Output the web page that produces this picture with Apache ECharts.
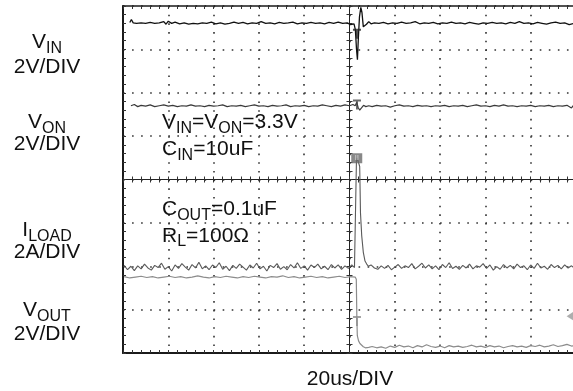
<!DOCTYPE html>
<html><head><meta charset="utf-8">
<script src="https://cdn.jsdelivr.net/npm/echarts@6/dist/echarts.min.js"></script>
<style>html,body{margin:0;padding:0;background:#fff}#c{width:573px;height:391px}</style>
</head><body><div id="c"></div>
<script>
// ---------- axis ranges (time in us, vertical in divisions from screen centre) ----------
const xMin = -100, xMax = 100, xStep = 20;
const yMin = -4, yMax = 4, yStep = 1;
const minorPerDiv = 5;

// ---------- text ----------
const channelNames = [['V','IN'], ['V','ON'], ['I','LOAD'], ['V','OUT']];
const channelScales = ['2V/DIV', '2V/DIV', '2A/DIV', '2V/DIV'];
const conditionLines = [
  [['V','m'],['IN','s'],['=V','m'],['ON','s'],['=3.3V','m']],
  [['C','m'],['IN','s'],['=10uF','m']],
  [['C','m'],['OUT','s'],['=0.1uF','m']],
  [['R','m'],['L','s'],['=100\u03a9','m']]
];
const timeScaleLabel = '20us/DIV';

// ---------- traces [time us, divisions] ----------
const vinTrace = [
[-97,3.62],[-96.3,3.69],[-95.5,3.61],[-94,3.60],[-92,3.61],[-90,3.60],[-88,3.62],[-86,3.60],[-84,3.61],[-82,3.64],[-81,3.58],[-80,3.65],[-78.5,3.60],[-77,3.63],[-75,3.59],[-73,3.61],[-71,3.58],[-69,3.60],[-67,3.59],[-65,3.61],[-63,3.60],[-61,3.63],[-59,3.59],[-57,3.61],[-55,3.58],[-53,3.60],[-51,3.63],[-49,3.60],[-47,3.62],[-45,3.59],[-43,3.61],[-41,3.60],[-39,3.64],[-37,3.60],[-35,3.61],[-33,3.59],[-31,3.62],[-29,3.60],[-27,3.61],[-25,3.63],[-23,3.59],[-21,3.61],[-19,3.60],[-17,3.62],[-15,3.60],[-13,3.61],[-11,3.59],[-9,3.62],[-7,3.60],[-5,3.63],[-3,3.60],[-1,3.61],[0.5,3.57],[2,3.59],
[2.6,3.45],[3.1,3.0],[3.5,2.76],[3.9,3.25],[4.4,3.75],[5.0,3.97],[5.5,3.85],[6.1,3.52],[6.8,3.48],[7.5,3.58],[8.5,3.64],[9.5,3.59],
[11,3.61],[13,3.60],[15,3.62],[17,3.59],[19,3.61],[21,3.60],[23,3.63],[25,3.60],[27,3.61],[29,3.64],[31,3.59],[33,3.61],[35,3.60],[37,3.62],[39,3.59],[41,3.61],[43,3.60],[45,3.63],[47,3.60],[49,3.61],[51,3.59],[53,3.62],[55,3.60],[57,3.58],[59,3.61],[61,3.60],[63,3.62],[65,3.60],[67,3.61],[69,3.59],[71,3.62],[73,3.60],[75,3.64],[77,3.60],[79,3.61],[81,3.59],[83,3.62],[85,3.60],[87,3.58],[89,3.61],[91,3.63],[93,3.60],[95,3.61],[97,3.57],[99,3.60],[100,3.61]
];
const vonTrace = [
[-96.5,1.70],[-95,1.73],[-93.5,1.68],[-92,1.71],[-90,1.69],[-88,1.72],[-86,1.68],[-84,1.70],[-82,1.72],[-80,1.69],[-78,1.71],[-76,1.68],[-74,1.70],[-72,1.69],[-70,1.72],[-68,1.69],[-66,1.70],[-64,1.68],[-62,1.71],[-60,1.69],[-58,1.70],[-56,1.72],[-54,1.68],[-52,1.70],[-50,1.69],[-48,1.71],[-46,1.68],[-44,1.70],[-42,1.72],[-40,1.69],[-38,1.70],[-36,1.68],[-34,1.71],[-32,1.69],[-30,1.70],[-28,1.72],[-26,1.68],[-24,1.70],[-22,1.69],[-20,1.71],[-18,1.68],[-16,1.70],[-14,1.69],[-12,1.72],[-10,1.70],[-8,1.68],[-6,1.71],[-4,1.69],[-2,1.72],[0,1.70],[1.5,1.73],[2.5,1.70],
[3.2,1.78],[3.8,1.66],[4.5,1.60],[5.3,1.65],[6.2,1.71],[7.2,1.68],
[8.5,1.70],[10,1.68],[12,1.71],[14,1.69],[16,1.70],[18,1.67],[20,1.70],[22,1.72],[24,1.69],[26,1.70],[28,1.68],[30,1.71],[32,1.69],[34,1.70],[36,1.68],[38,1.70],[40,1.69],[42,1.71],[44,1.68],[46,1.70],[48,1.69],[50,1.71],[52,1.68],[54,1.70],[56,1.72],[58,1.69],[60,1.70],[62,1.68],[64,1.71],[66,1.69],[68,1.72],[70,1.69],[72,1.70],[74,1.68],[76,1.70],[78,1.69],[80,1.71],[82,1.68],[84,1.70],[86,1.69],[88,1.71],[90,1.68],[92,1.70],[94,1.69],[96,1.71],[98,1.65],[99,1.72],[100,1.69]
];
const iloadTrace = [
[-99.5,-1.98],[-98,-2.08],[-96.5,-2.00],[-95,-2.10],[-93.5,-1.99],[-92,-2.06],[-90.5,-1.95],[-89,-2.04],[-87.5,-2.09],[-86,-1.98],[-84.5,-2.03],[-83,-1.93],[-81.5,-2.07],[-80,-2.01],[-78.5,-2.11],[-77,-1.97],[-75.5,-2.05],[-74,-1.94],[-72.5,-2.02],[-71,-2.09],[-69.5,-1.96],[-68,-2.04],[-66.5,-1.91],[-65,-2.06],[-63.5,-1.99],[-62,-2.08],[-60.5,-1.97],[-59,-2.03],[-57.5,-1.92],[-56,-2.07],[-54.5,-2.00],[-53,-2.10],[-51.5,-1.98],[-50,-2.05],[-48.5,-1.95],[-47,-2.02],[-45.5,-2.09],[-44,-1.97],[-42.5,-2.04],[-41,-1.93],[-39.5,-2.06],[-38,-2.00],[-36.5,-2.11],[-35,-1.98],[-33.5,-2.03],[-32,-1.94],[-30.5,-2.07],[-29,-2.01],[-27.5,-2.08],[-26,-1.96],[-24.5,-2.04],[-23,-1.92],[-21.5,-2.05],[-20,-1.99],[-18.5,-2.09],[-17,-1.97],[-15.5,-2.03],[-14,-1.95],[-12.5,-2.06],[-11,-2.00],[-9.5,-2.08],[-8,-1.96],[-6.5,-2.04],[-5,-1.97],[-3.5,-2.07],[-2,-1.99],[-0.5,-2.05],[1,-1.97],[2.2,-2.03],
[2.9,-2.02],[3.05,0.40],[3.4,0.50],[4.0,0.52],[4.5,0.30],[4.7,-0.30],[4.85,-0.77],[5.4,-1.30],[6.1,-1.68],[6.85,-1.88],[7.6,-1.95],[8.3,-2.00],
[9.5,-1.97],[11,-2.04],[12.5,-2.07],[14,-1.99],[15.5,-2.05],[17,-1.98],[18.5,-2.08],[20,-2.02],[21.5,-1.96],[23,-2.05],[24.5,-1.99],[26,-2.03],[27.5,-1.94],[29,-2.06],[30.5,-2.00],[32,-1.93],[33.5,-2.04],[35,-1.97],[36.5,-2.06],[38,-1.99],[39.5,-2.08],[41,-1.96],[42.5,-2.03],[44,-1.92],[45.5,-2.05],[47,-2.00],[48.5,-2.07],[50,-1.98],[51.5,-2.04],[53,-1.95],[54.5,-2.06],[56,-1.99],[57.5,-2.02],[59,-1.94],[60.5,-2.05],[62,-1.97],[63.5,-2.09],[65,-2.01],[66.5,-2.07],[68,-1.96],[69.5,-2.04],[71,-1.98],[72.5,-2.06],[74,-1.95],[75.5,-2.03],[77,-1.99],[78.5,-2.08],[80,-1.97],[81.5,-2.05],[83,-1.93],[84.5,-2.04],[86,-2.00],[87.5,-2.07],[89,-1.96],[90.5,-2.03],[92,-1.98],[93.5,-2.06],[95,-1.97],[96.5,-2.04],[98,-1.99],[99.5,-2.05]
];
const voutTrace = [
[-99.5,-2.24],[-97,-2.27],[-94.5,-2.25],[-92,-2.23],[-89.5,-2.26],[-87,-2.24],[-84.5,-2.27],[-82,-2.25],[-79.5,-2.23],[-77,-2.26],[-74.5,-2.24],[-72,-2.27],[-69.5,-2.25],[-67,-2.22],[-64.5,-2.25],[-62,-2.27],[-59.5,-2.24],[-57,-2.26],[-54.5,-2.23],[-52,-2.25],[-49.5,-2.27],[-47,-2.24],[-44.5,-2.26],[-42,-2.23],[-39.5,-2.25],[-37,-2.27],[-34.5,-2.24],[-32,-2.25],[-29.5,-2.22],[-27,-2.26],[-24.5,-2.24],[-22,-2.27],[-19.5,-2.25],[-17,-2.23],[-14.5,-2.26],[-12,-2.24],[-9.5,-2.27],[-7,-2.25],[-4.5,-2.23],[-2,-2.26],[0.5,-2.24],[2.5,-2.25],
[3.0,-2.30],[3.25,-3.20],[3.45,-3.60],[4.0,-3.72],[4.6,-3.78],[5.3,-3.82],[6.1,-3.855],[7.0,-3.88],
[8.5,-3.87],[10,-3.85],[12,-3.88],[14,-3.86],[16,-3.89],[18,-3.84],[20,-3.87],[22,-3.82],[24,-3.86],[26,-3.84],[28,-3.88],[30,-3.83],[32,-3.86],[34,-3.81],[36,-3.85],[38,-3.87],[40,-3.84],[42,-3.88],[44,-3.83],[46,-3.86],[48,-3.84],[50,-3.87],[52,-3.85],[54,-3.82],[56,-3.86],[58,-3.84],[60,-3.87],[62,-3.83],[64,-3.86],[66,-3.84],[68,-3.88],[70,-3.85],[72,-3.83],[74,-3.86],[76,-3.84],[78,-3.87],[80,-3.83],[82,-3.85],[84,-3.82],[86,-3.86],[88,-3.84],[90,-3.81],[92,-3.85],[94,-3.83],[96,-3.80],[98,-3.84],[100,-3.82]
];

// ---------- scope markers [time us, divisions] ----------
const vinMarker = [3.3, 3.36];
const vonMarker = [3.3, 1.73];
const iloadMarker = [3.2, 0.49];
const voutMarker = [3.3, -3.26];
const triggerLevel = [97.4, -3.15];

// ---------- rendering ----------
const FONT = '"Liberation Sans", Arial, Helvetica, sans-serif';
const INK = '#111';
const rich = {
  m: { fontSize: 21, fontFamily: FONT, lineHeight: 24, verticalAlign: 'top', fill: INK },
  s: { fontSize: 16, fontFamily: FONT, verticalAlign: 'top', padding: [8, 0, 0, 0], fill: INK }
};
function richText(parts) { return parts.map(p => '{' + p[1] + '|' + p[0] + '}').join(''); }
function textEl(parts, x, baseline, align) {
  return { type: 'text', x: x, y: baseline - 17.8, z: 100, silent: true,
    style: { text: richText(parts), rich: rich, align: align, verticalAlign: 'top', fill: INK, fontFamily: FONT } };
}
const graphics = [];
const leftX = 47;
const nameBase = [50, 130, 238, 318];
const scaleBase = [75, 152, 260, 342];
channelNames.forEach((n, i) => {
  graphics.push(textEl([[n[0], 'm'], [n[1], 's']], leftX, nameBase[i], 'center'));
  graphics.push(textEl([[channelScales[i], 'm']], leftX, scaleBase[i], 'center'));
});
const condX = 162, condBase = [130, 157, 217, 243.5];
conditionLines.forEach((parts, i) => graphics.push(textEl(parts, condX, condBase[i], 'left')));
graphics.push(textEl([[timeScaleLabel, 'm']], 350, 387, 'center'));

const tickStyle = { color: '#333', width: 1 };
function axis(extra) {
  return Object.assign({ type: 'value', axisLabel: { show: false }, splitLine: { show: false },
    minorTick: { show: true, splitNumber: minorPerDiv, length: 3, lineStyle: tickStyle } }, extra);
}
const xRange = { min: xMin, max: xMax, interval: xStep };
const yRange = { min: yMin, max: yMax, interval: yStep };
const xAxes = [
  axis(Object.assign({ position: 'bottom',
    axisLine: { show: true, onZero: false, lineStyle: { color: '#1a1a1a', width: 2 } },
    axisTick: { show: true, inside: true, length: 3, lineStyle: tickStyle },
    splitLine: { show: true, lineStyle: { color: '#333', width: 1.6, type: [1.6, 7.08] } } }, xRange)),
  axis(Object.assign({ position: 'top',
    axisLine: { show: true, onZero: false, lineStyle: { color: '#1a1a1a', width: 1.5 } },
    axisTick: { show: true, inside: true, length: 3, lineStyle: tickStyle } }, xRange)),
  axis(Object.assign({ position: 'bottom',
    axisLine: { show: true, onZero: true, onZeroAxisIndex: 0, lineStyle: { color: '#222', width: 1 } },
    axisTick: { show: true, inside: true, length: 3, lineStyle: tickStyle } }, xRange)),
  axis(Object.assign({ position: 'bottom',
    axisLine: { show: true, onZero: true, onZeroAxisIndex: 0, lineStyle: { color: '#222', width: 1 } },
    axisTick: { show: true, inside: false, length: 3, lineStyle: tickStyle } }, xRange))
];
const yAxes = [
  axis(Object.assign({ position: 'left',
    axisLine: { show: true, onZero: false, lineStyle: { color: '#1a1a1a', width: 2 } },
    axisTick: { show: true, inside: true, length: 3, lineStyle: tickStyle },
    splitLine: { show: true, lineStyle: { color: '#333', width: 1.6, type: [1.6, 7.46] } } }, yRange)),
  axis(Object.assign({ position: 'left',
    axisLine: { show: true, onZero: true, onZeroAxisIndex: 0, lineStyle: { color: '#222', width: 1 } },
    axisTick: { show: true, inside: true, length: 3, lineStyle: tickStyle } }, yRange)),
  axis(Object.assign({ position: 'left',
    axisLine: { show: true, onZero: true, onZeroAxisIndex: 0, lineStyle: { color: '#222', width: 1 } },
    axisTick: { show: true, inside: false, length: 3, lineStyle: tickStyle } }, yRange))
];

function trace(name, data, color, width, z) {
  return { type: 'line', name: name, data: data, xAxisIndex: 0, yAxisIndex: 0, symbol: 'none',
    showSymbol: false, lineStyle: { color: color, width: width }, itemStyle: { color: color },
    z: z, clip: true, silent: true };
}
const T_PATH = 'path://M0,0H10V2.4H6.2V12H3.8V2.4H0Z';
function marker(point, symbol, size, color, label) {
  return { type: 'scatter', data: [point], xAxisIndex: 0, yAxisIndex: 0, symbol: symbol, symbolSize: size,
    itemStyle: { color: color }, z: 20, silent: true,
    label: label ? { show: true, position: 'inside', formatter: label, color: '#c8c8c8', fontSize: 8,
      fontFamily: FONT, fontWeight: 'bold' } : { show: false } };
}

const chart = echarts.init(document.getElementById('c'), null, { renderer: 'canvas' });
chart.setOption({
  animation: false,
  backgroundColor: '#fff',
  grid: { left: 123, top: 6, width: 453, height: 347, show: false, containLabel: false, outerBoundsMode: 'none' },
  xAxis: xAxes,
  yAxis: yAxes,
  graphic: graphics,
  series: [
    trace('VOUT', voutTrace, '#8c8c8c', 1.2, 5),
    trace('ILOAD', iloadTrace, '#5a5a5a', 1.1, 6),
    trace('VON', vonTrace, '#3a3a3a', 1.2, 7),
    trace('VIN', vinTrace, '#111', 1.3, 8),
    marker(vinMarker, T_PATH, [8, 10], '#222'),
    marker(vonMarker, T_PATH, [8, 10], '#444'),
    marker(voutMarker, T_PATH, [8, 10], '#8c8c8c'),
    marker(iloadMarker, 'rect', [11, 10], '#6a6a6a', 'II'),
    marker(triggerLevel, 'path://M10,0L0,5L10,10Z', [7, 9], '#9a9a9a')
  ]
});
</script></body></html>
